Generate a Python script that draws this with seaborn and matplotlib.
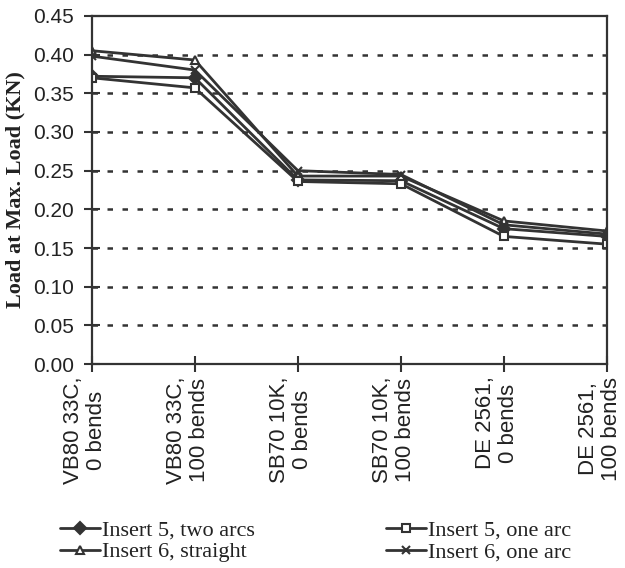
import matplotlib.pyplot as plt
import matplotlib.transforms as mtransforms
import seaborn as sns
import pandas as pd

#----------------------------------------------------
categories = ['VB80 33C,\n0 bends', 'VB80 33C,\n100 bends', 'SB70 10K,\n0 bends',
              'SB70 10K,\n100 bends', 'DE 2561,\n0 bends', 'DE 2561,\n100 bends']
ins5_two_arcs = [0.372, 0.370, 0.238, 0.237, 0.175, 0.165]
ins6_straight = [0.405, 0.393, 0.243, 0.243, 0.185, 0.172]
ins5_one_arc = [0.370, 0.357, 0.236, 0.233, 0.165, 0.155]
ins6_one_arc = [0.398, 0.380, 0.250, 0.245, 0.180, 0.168]
yticks = [0.00, 0.05, 0.10, 0.15, 0.20, 0.25, 0.30, 0.35, 0.40, 0.45]

series = [('Insert 5, two arcs', ins5_two_arcs, 'D', '#333333', 6),
          ('Insert 6, straight', ins6_straight, '^', 'w', 8),
          ('Insert 5, one arc', ins5_one_arc, 's', 'w', 7),
          ('Insert 6, one arc', ins6_one_arc, 'x', '#333333', 8)]
ink = '#333333'

#----------------------------------------------------
sns.set_style('white')
plt.rcParams['font.family'] = ['Liberation Sans', 'DejaVu Sans']
fig, ax = plt.subplots(figsize=(6.25, 5.68), dpi=100)
fig.subplots_adjust(left=0.147, right=0.971, top=0.972, bottom=0.359)

for name, vals, mk, fc, ms in series:
    df = pd.DataFrame({'x': range(len(categories)), 'y': vals})
    sns.lineplot(data=df, x='x', y='y', ax=ax, color=ink, lw=2.0,
                 marker=mk, markersize=ms, markerfacecolor=fc,
                 markeredgecolor=ink, markeredgewidth=1.5, label=name, legend=False)

#adjust
ax.set_xlim(0, len(categories) - 1)
ax.set_ylim(0, 0.45)
ax.set_yticks(yticks)
ax.set_yticklabels([f'{v:.2f}' for v in yticks], fontsize=15, color='#222222')
ax.set_xticks(range(len(categories)))
ax.set_xticklabels(categories, rotation=90, fontsize=16, color='#222222', linespacing=1.15)
ax.tick_params(axis='both', direction='inout', length=12, width=1.5, color=ink,
               bottom=True, left=True, pad=3)
ax.tick_params(axis='y', pad=7)
shift = mtransforms.ScaledTranslation(-0.07, 0, fig.dpi_scale_trans)
for lbl in ax.get_xticklabels():
    lbl.set_transform(lbl.get_transform() + shift)
for y in yticks[1:-1]:
    ax.axhline(y, color=ink, lw=1.8, ls=(0, (2.2, 3.8)), zorder=0)
for s in ax.spines.values():
    s.set_color(ink)
    s.set_linewidth(1.6)
ax.set_xlabel('')
ax.set_ylabel('Load at Max. Load (KN)', fontsize=16, weight='bold',
              family='Liberation Serif', color='#222222', labelpad=5)

handles, labels = ax.get_legend_handles_labels()
for h in handles:
    h.set_markersize(6)
    h.set_linewidth(2.0)
fig.legend(handles, labels, ncol=2, loc='lower left', bbox_to_anchor=(0.096, 0.01),
           frameon=False, prop={'family': 'Liberation Serif', 'size': 16},
           handlelength=1.8, handletextpad=0.1, columnspacing=5.9, labelspacing=0.05,
           borderpad=0, borderaxespad=0, labelcolor='#222222')

#save
plt.savefig('out.png', dpi=100)
plt.close()
